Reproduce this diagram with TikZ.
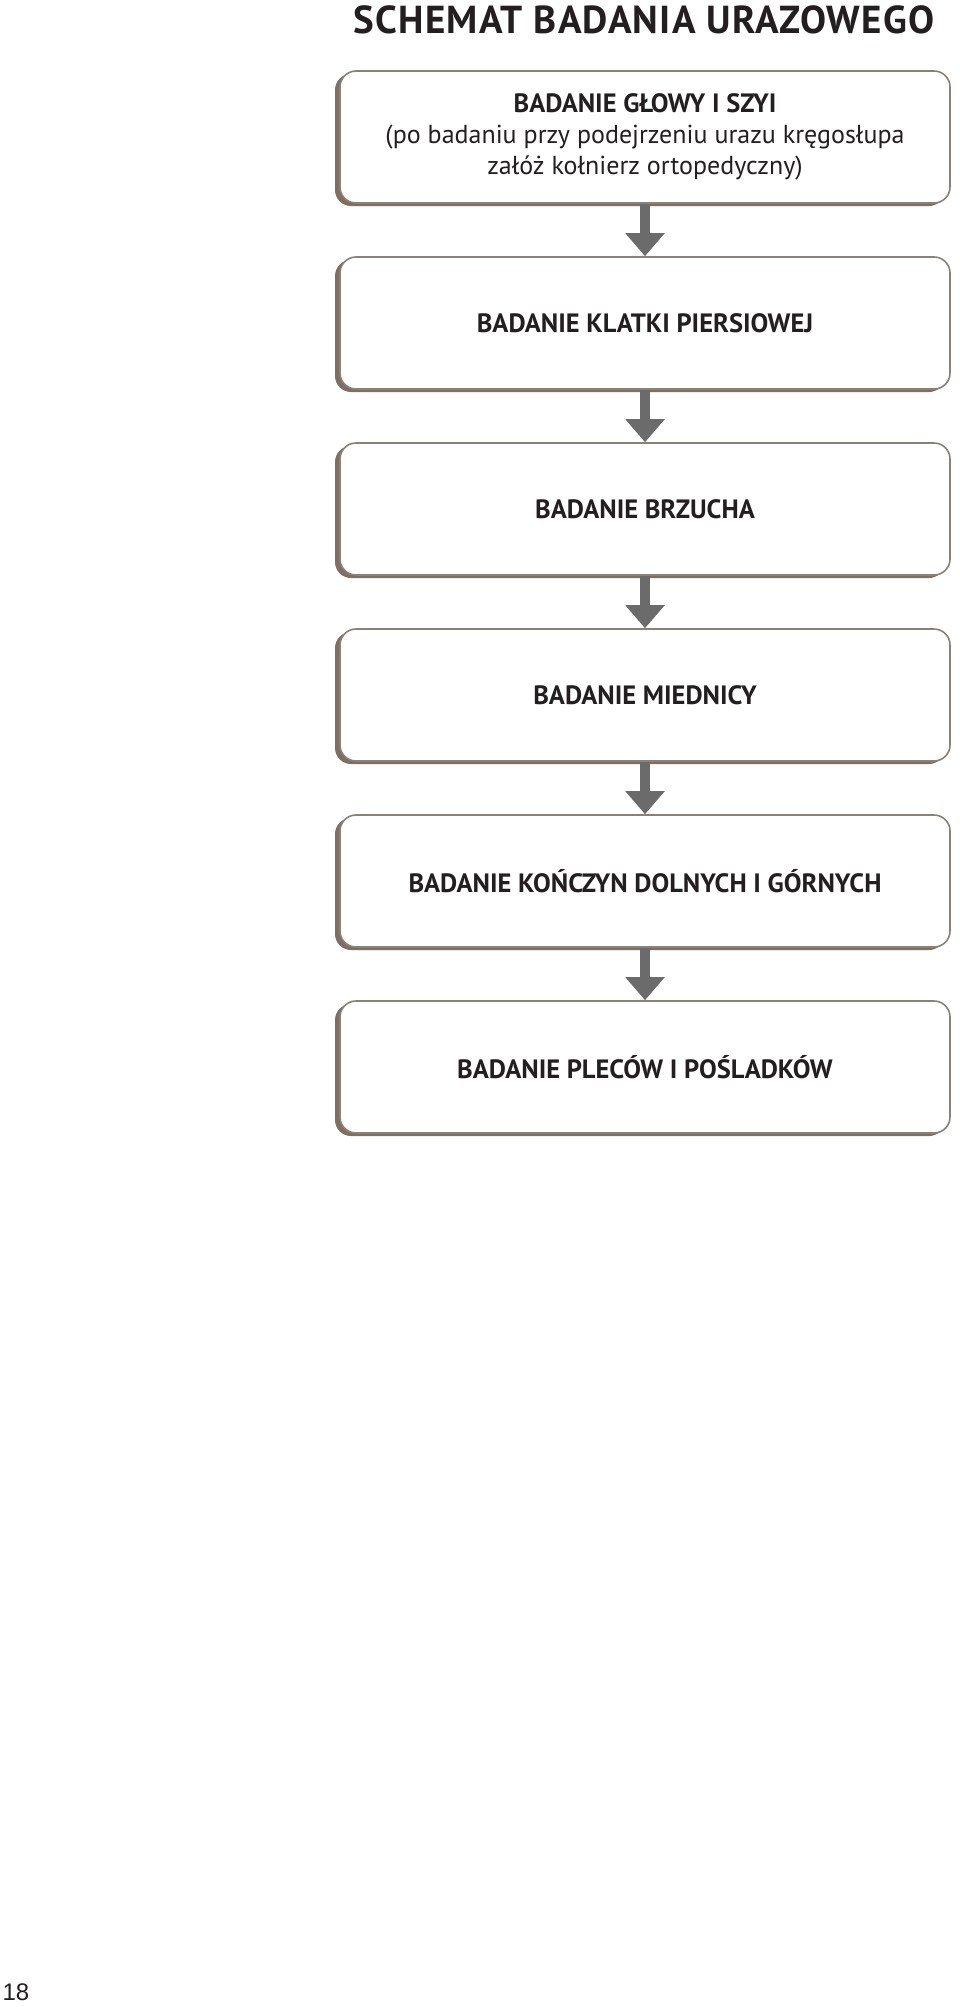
\documentclass[tikz,border=0pt]{standalone}
\usepackage{fontspec}
\setmainfont{PT Sans}
\newfontfamily\pagefont{Liberation Sans}
\usetikzlibrary{calc,positioning,arrows.meta,shadows}
\definecolor{boxedge}{HTML}{8A8178}
\definecolor{boxshade}{HTML}{7D7062}
\definecolor{arrowgray}{HTML}{6B6B6B}
\definecolor{inkblack}{HTML}{231F20}
\tikzset{
  exambox/.style={
    draw=boxedge, line width=1.6pt, fill=white, rounded corners=16pt,
    minimum width=610pt, minimum height=132pt, align=center, text=inkblack,
    font=\bfseries\fontsize{26.5}{31}\selectfont,
    general shadow={fill=boxshade, shadow xshift=-5pt, shadow yshift=-3pt}
  },
  stepdown/.style={
    arrowgray, line width=10pt, -{Triangle[width=38pt,length=23pt]}
  },
}

\begin{document}
\begin{tikzpicture}[x=1pt,y=-1pt]
  \useasboundingbox (0,0) rectangle (960,2007);
  \def\lvl{186pt}
  \node (title) at (644,20) [text=inkblack,font=\bfseries\fontsize{39}{42}\selectfont\addfontfeature{LetterSpace=3}] {SCHEMAT BADANIA URAZOWEGO};
  \node (b1) at (645,137) [exambox] {BADANIE GŁOWY I SZYI\\
    {\mdseries\fontsize{26}{31}\selectfont (po badaniu przy podejrzeniu urazu kręgosłupa}\\
    {\mdseries\fontsize{26}{31}\selectfont załóż kołnierz ortopedyczny)}};
  \node (b2) at ($(b1) + (0bp, -\lvl)$) [exambox] {BADANIE KLATKI PIERSIOWEJ};
  \node (b3) at ($(b2) + (0bp, -\lvl)$) [exambox] {BADANIE BRZUCHA};
  \node (b4) at ($(b3) + (0bp, -\lvl)$) [exambox] {BADANIE MIEDNICY};
  \node (b5) at ($(b4) + (0bp, -\lvl)$) [exambox] {BADANIE KOŃCZYN DOLNYCH I GÓRNYCH};
  \node (b6) at ($(b5) + (0bp, -\lvl)$) [exambox] {BADANIE PLECÓW I POŚLADKÓW};
  \node (page) at (16,1992) [text=inkblack,font=\pagefont\fontsize{24}{26}\selectfont] {18};

  \draw [stepdown] (b1.south) -- (b2.north);
  \draw [stepdown] (b2.south) -- (b3.north);
  \draw [stepdown] (b3.south) -- (b4.north);
  \draw [stepdown] (b4.south) -- (b5.north);
  \draw [stepdown] (b5.south) -- (b6.north);
\end{tikzpicture}
\end{document}
